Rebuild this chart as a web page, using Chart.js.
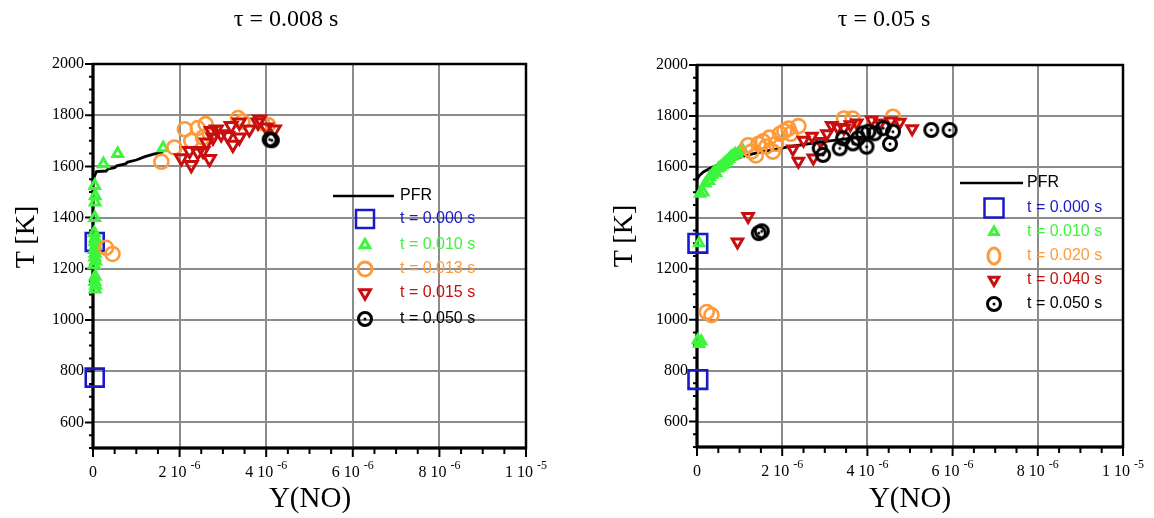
<!DOCTYPE html>
<html>
<head>
<meta charset="utf-8">
<script src="https://cdn.jsdelivr.net/npm/chart.js@4/dist/chart.umd.min.js"></script>
<style>
  body { margin: 0; background: #fff; width: 1154px; height: 518px; position: relative; overflow: hidden; }
  canvas { position: absolute; top: 0; }
  .txt { position: absolute; text-align: center; font-family: "Liberation Serif", "Times New Roman", serif; color: #000; white-space: nowrap; }
  .ttl { font-size: 24px; line-height: 28px; width: 200px; top: 4px; }
  .ylab { font-size: 28px; line-height: 32px; width: 100px; transform: rotate(-90deg); }
  .xlab { font-size: 29px; line-height: 34px; width: 200px; top: 480px; }
</style>
</head>
<body>
<canvas id="c1" width="577" height="518" style="left:0"></canvas>
<canvas id="c2" width="577" height="518" style="left:577px"></canvas>
<div class="txt ttl" style="left:186px">τ = 0.008 s</div>
<div class="txt ttl" style="left:784px">τ = 0.05 s</div>
<div class="txt ylab" style="left:-25px;top:221px">T [K]</div>
<div class="txt ylab" style="left:573px;top:220px">T [K]</div>
<div class="txt xlab" style="left:210px">Y(NO)</div>
<div class="txt xlab" style="left:810px">Y(NO)</div>
<script>
// x values in units of 1e-6, T in K

// ---- tau = 0.008 s ----
const pfr1X = [0, 0.03, 0.08, 0.3, 0.35, 0.5, 0.55, 0.75, 0.8, 1.0, 1.2, 1.4, 1.62];
const pfr1T = [1540, 1560, 1580, 1582, 1590, 1595, 1602, 1610, 1617, 1625, 1638, 1648, 1657];
const sq1X = [0.04, 0.04];
const sq1T = [1305, 775];
const gr1X = [0.04, 0.05, 0.05, 0.04, 0.03, 0.05, 0.04, 0.06, 0.03, 0.05, 0.04, 0.06, 0.03, 0.05, 0.04, 0.06, 0.05, 0.24, 0.57, 1.62];
const gr1T = [1525, 1485, 1460, 1400, 1340, 1320, 1305, 1290, 1275, 1260, 1245, 1230, 1215, 1170, 1150, 1135, 1120, 1610, 1650, 1672];
const or1X = [0.3, 0.45, 1.58, 1.88, 2.12, 2.27, 2.42, 2.6, 2.54, 2.7, 3.35, 3.45, 3.9, 4.04];
const or1T = [1282, 1258, 1618, 1674, 1745, 1700, 1750, 1765, 1713, 1728, 1789, 1775, 1770, 1762];
const rd1X = [2.04, 2.27, 2.23, 2.42, 2.69, 2.62, 2.77, 2.85, 2.96, 3.11, 3.23, 3.38, 3.19, 3.38, 3.61, 3.81, 3.85, 4.0, 4.19, 2.73, 2.54];
const rd1T = [1632, 1606, 1661, 1655, 1629, 1694, 1713, 1745, 1726, 1719, 1685, 1713, 1758, 1772, 1745, 1772, 1784, 1752, 1745, 1739, 1661];
const bk1X = [4.08, 4.13];
const bk1T = [1705, 1702];
const legend1 = ['PFR', 't = 0.000 s', 't = 0.010 s', 't = 0.013 s', 't = 0.015 s', 't = 0.050 s'];

// ---- tau = 0.05 s ----
const pfr2X = [0, 0.05, 0.15, 0.35, 0.6, 0.8, 1.05, 1.4, 1.8, 2.2, 2.8, 3.4, 3.9];
const pfr2T = [1550, 1565, 1580, 1598, 1612, 1625, 1640, 1655, 1668, 1680, 1695, 1708, 1718];
const sq2X = [0.02, 0.02];
const sq2T = [1300, 765];
const gr2X = [0.05, 0.02, 0.05, 0.1, 0.07, 0.15, 0.2, 0.28, 0.3, 0.35, 0.4, 0.45, 0.5, 0.55, 0.6, 0.65, 0.7, 0.75, 0.8, 0.85, 0.9, 0.95, 1.0, 1.05];
const gr2T = [1300, 920, 905, 915, 1495, 1500, 1535, 1545, 1560, 1568, 1580, 1575, 1594, 1600, 1607, 1615, 1622, 1630, 1640, 1645, 1652, 1650, 1660, 1672];
const or2X = [0.23, 0.34, 1.2, 1.28, 1.38, 1.44, 1.55, 1.63, 1.7, 1.78, 1.85, 1.95, 2.05, 2.15, 2.2, 2.38, 3.45, 3.65, 4.6];
const or2T = [1030, 1018, 1685, 1660, 1645, 1690, 1700, 1680, 1715, 1660, 1690, 1730, 1740, 1750, 1730, 1760, 1790, 1790, 1797];
const rd2X = [0.95, 1.2, 2.25, 2.38, 2.5, 2.7, 2.73, 2.9, 3.05, 3.16, 3.3, 3.45, 3.6, 3.75, 4.1, 4.3, 4.55, 4.76, 5.05];
const rd2T = [1305, 1405, 1670, 1622, 1705, 1720, 1635, 1700, 1730, 1762, 1755, 1752, 1765, 1772, 1784, 1772, 1780, 1775, 1750];
const bk2X = [1.45, 1.52, 2.88, 2.96, 3.35, 3.43, 3.66, 3.78, 3.98, 3.9, 4.02, 4.17, 4.37, 4.53, 4.6, 5.5, 5.93];
const bk2T = [1340, 1347, 1673, 1647, 1673, 1712, 1692, 1712, 1679, 1732, 1738, 1732, 1752, 1690, 1738, 1745, 1745];
const legend2 = ['PFR', 't = 0.000 s', 't = 0.010 s', 't = 0.020 s', 't = 0.040 s', 't = 0.050 s'];

// axis labels
const xTickVals = [0, 2, 4, 6, 8, 10];
const xTickBase = ['0', '2 10', '4 10', '6 10', '8 10', '1 10'];
const xTickExp = ['', '-6', '-6', '-6', '-6', '-5'];

const BLUE = '#1a1ac8', GREEN = '#3cf53c', ORANGE = '#ff9a3a', RED = '#c80f0f';
const SERIF = '"Liberation Serif", "Times New Roman", serif';
const SANS = '"Liberation Sans", Arial, sans-serif';

function pts(xs, ys) { return xs.map((x, i) => ({ x: x, y: ys[i] })); }

function ringDot(r, lw) {
  const c = document.createElement('canvas');
  const size = Math.ceil(2 * r + lw + 2);
  c.width = size; c.height = size;
  const g = c.getContext('2d');
  g.strokeStyle = '#000'; g.lineWidth = lw;
  g.beginPath(); g.arc(size / 2, size / 2, r, 0, Math.PI * 2); g.stroke();
  g.fillStyle = '#000';
  g.beginPath(); g.arc(size / 2, size / 2, 1.5, 0, Math.PI * 2); g.fill();
  return c;
}

function triPath(ctx, x, y, r, rot) {
  let a = rot;
  ctx.beginPath();
  ctx.moveTo(x + Math.sin(a) * r, y - Math.cos(a) * r);
  a += 2 * Math.PI / 3;
  ctx.lineTo(x + Math.sin(a) * r, y - Math.cos(a) * r);
  a += 2 * Math.PI / 3;
  ctx.lineTo(x + Math.sin(a) * r, y - Math.cos(a) * r);
  ctx.closePath();
}

// frame, tick marks and x tick labels
const framePlugin = {
  id: 'frame',
  beforeDatasetsDraw(chart) {
    const ctx = chart.ctx, a = chart.chartArea;
    const xs = chart.scales.x, ys = chart.scales.y;
    ctx.save();
    ctx.strokeStyle = '#000';
    ctx.lineWidth = 2.5;
    ctx.strokeRect(a.left, a.top, a.right - a.left, a.bottom - a.top);
    ctx.lineWidth = 3;
    ctx.beginPath();
    ctx.moveTo(a.left, a.top); ctx.lineTo(a.left, a.bottom + 1.5);
    ctx.moveTo(a.left - 1.5, a.bottom); ctx.lineTo(a.right, a.bottom);
    ctx.stroke();
    ctx.lineWidth = 2;
    ctx.beginPath();
    for (let v = 500; v <= 2000; v += 50) {
      const py = ys.getPixelForValue(v);
      const len = v % 200 === 0 ? 8 : 4;
      ctx.moveTo(a.left - len, py); ctx.lineTo(a.left, py);
    }
    for (let k = 0; k <= 20; k++) {
      const px = xs.getPixelForValue(k * 0.5);
      const len = k % 4 === 0 ? 9 : 6;
      ctx.moveTo(px, a.bottom); ctx.lineTo(px, a.bottom + len);
    }
    ctx.stroke();
    ctx.fillStyle = '#000';
    ctx.textBaseline = 'middle';
    xTickVals.forEach((v, i) => {
      const px = xs.getPixelForValue(v);
      ctx.font = '16px ' + SERIF;
      const base = xTickExp[i] ? xTickBase[i] + ' ' : xTickBase[i];
      const w1 = ctx.measureText(base).width;
      ctx.font = '12px ' + SERIF;
      const w2 = ctx.measureText(xTickExp[i]).width;
      const x0 = px - (w1 + w2) / 2;
      const y0 = a.bottom + 25;
      ctx.font = '16px ' + SERIF;
      ctx.textAlign = 'left';
      ctx.fillText(base, x0, y0);
      ctx.font = '12px ' + SERIF;
      ctx.fillText(xTickExp[i], x0 + w1, y0 - 7);
    });
    ctx.restore();
  }
};

// hand-placed legend inside the plot
const legendPlugin = {
  id: 'ownLegend',
  afterDatasetsDraw(chart) {
    const L = chart.options.plugins.ownLegend;
    const ctx = chart.ctx;
    ctx.save();
    ctx.strokeStyle = '#000'; ctx.lineWidth = 2.5;
    ctx.beginPath(); ctx.moveTo(L.lineX1, L.lineY); ctx.lineTo(L.lineX2, L.lineY); ctx.stroke();
    ctx.font = '16px ' + SANS;
    ctx.textBaseline = 'middle'; ctx.textAlign = 'left';
    ctx.fillStyle = '#000';
    ctx.fillText(L.labels[0], L.pfrX, L.lineY);
    const colors = [BLUE, GREEN, ORANGE, RED, '#000'];
    L.rows.forEach((y, i) => {
      const x = L.markX;
      ctx.lineWidth = 3;
      if (i === 0) {
        ctx.lineWidth = 2.5;
        ctx.strokeStyle = BLUE;
        ctx.strokeRect(x - L.sq, y - L.sq, 2 * L.sq, 2 * L.sq);
      } else if (i === 1) {
        ctx.strokeStyle = GREEN;
        triPath(ctx, x, y, L.tri, 0); ctx.stroke();
      } else if (i === 2) {
        ctx.strokeStyle = ORANGE;
        ctx.beginPath(); ctx.ellipse(x, y, L.cx, L.cy, 0, 0, Math.PI * 2); ctx.stroke();
      } else if (i === 3) {
        ctx.strokeStyle = RED;
        triPath(ctx, x, y, L.inv, Math.PI); ctx.stroke();
      } else {
        ctx.drawImage(L.dot, x - L.dot.width / 2, y - L.dot.height / 2);
      }
      ctx.fillStyle = colors[i];
      ctx.fillText(L.labels[i + 1], L.textX, y);
    });
    ctx.restore();
  }
};

function makeChart(id, d, geo, leg) {
  const none = 'rgba(0,0,0,0)';
  new Chart(document.getElementById(id), {
    type: 'scatter',
    data: {
      datasets: [
        { data: pts(d.pfrX, d.pfrT), showLine: true, borderColor: '#000', borderWidth: 2.8, pointRadius: 0, order: 6 },
        { data: pts(d.sqX, d.sqT), pointStyle: 'rect', pointRadius: geo.sqR, borderColor: BLUE, backgroundColor: none, borderWidth: 2.6, order: 5 },
        { data: pts(d.grX, d.grT), pointStyle: 'triangle', pointRadius: geo.triR, borderColor: GREEN, backgroundColor: none, borderWidth: 3, order: 4 },
        { data: pts(d.orX, d.orT), pointStyle: 'circle', pointRadius: geo.circR, borderColor: ORANGE, backgroundColor: none, borderWidth: 2.6, order: 3 },
        { data: pts(d.rdX, d.rdT), pointStyle: 'triangle', rotation: 180, pointRadius: geo.invR, borderColor: RED, backgroundColor: none, borderWidth: 3, order: 2 },
        { data: pts(d.bkX, d.bkT), pointStyle: geo.dotImg, pointRadius: 7, order: 1 }
      ].map(ds => Object.assign(ds, { clip: false }))
    },
    options: {
      responsive: false,
      animation: false,
      events: [],
      layout: { padding: { top: geo.top, right: geo.right, left: 0, bottom: 0 } },
      plugins: { legend: { display: false }, tooltip: { enabled: false }, ownLegend: leg },
      scales: {
        x: {
          type: 'linear', min: 0, max: 10,
          ticks: { display: false, stepSize: 2 },
          grid: { color: '#8c8c8c', lineWidth: 2, drawTicks: false },
          border: { display: false },
          afterFit: s => { s.height = geo.xH; }
        },
        y: {
          type: 'linear', min: 500, max: 2000,
          ticks: {
            stepSize: 200, padding: 9, color: '#000',
            font: { family: SERIF, size: 16 },
            callback: v => (v < 600 ? '' : String(v))
          },
          grid: { color: '#8c8c8c', lineWidth: 2, drawTicks: false },
          border: { display: false },
          afterFit: s => { s.width = geo.yW; }
        }
      }
    },
    plugins: [framePlugin, legendPlugin]
  });
}

const dot1 = ringDot(6.5, 3);
const dot2 = ringDot(6.5, 3);

makeChart('c1',
  { pfrX: pfr1X, pfrT: pfr1T, sqX: sq1X, sqT: sq1T, grX: gr1X, grT: gr1T, orX: or1X, orT: or1T, rdX: rd1X, rdT: rd1T, bkX: bk1X, bkT: bk1T },
  { top: 64, right: 51, xH: 70, yW: 93, sqR: 12.7, triR: 5.6, circR: 7, invR: 6.8, dotImg: dot1 },
  { labels: legend1, lineX1: 333, lineX2: 394, lineY: 196, pfrX: 400, markX: 365, textX: 400,
    rows: [219, 245, 269, 293, 319], sq: 9, tri: 5.6, cx: 7, cy: 7, inv: 6.3, dot: dot1 });

makeChart('c2',
  { pfrX: pfr2X, pfrT: pfr2T, sqX: sq2X, sqT: sq2T, grX: gr2X, grT: gr2T, orX: or2X, orT: or2T, rdX: rd2X, rdT: rd2T, bkX: bk2X, bkT: bk2T },
  { top: 65, right: 31, xH: 71, yW: 120, sqR: 13.2, triR: 5.2, circR: 7, invR: 6, dotImg: dot2 },
  { labels: legend2, lineX1: 383, lineX2: 446, lineY: 183, pfrX: 450, markX: 417, textX: 450,
    rows: [208, 232, 256, 280, 304], sq: 9.5, tri: 5, cx: 6, cy: 8, inv: 5.5, dot: dot2 });
</script>
</body>
</html>
